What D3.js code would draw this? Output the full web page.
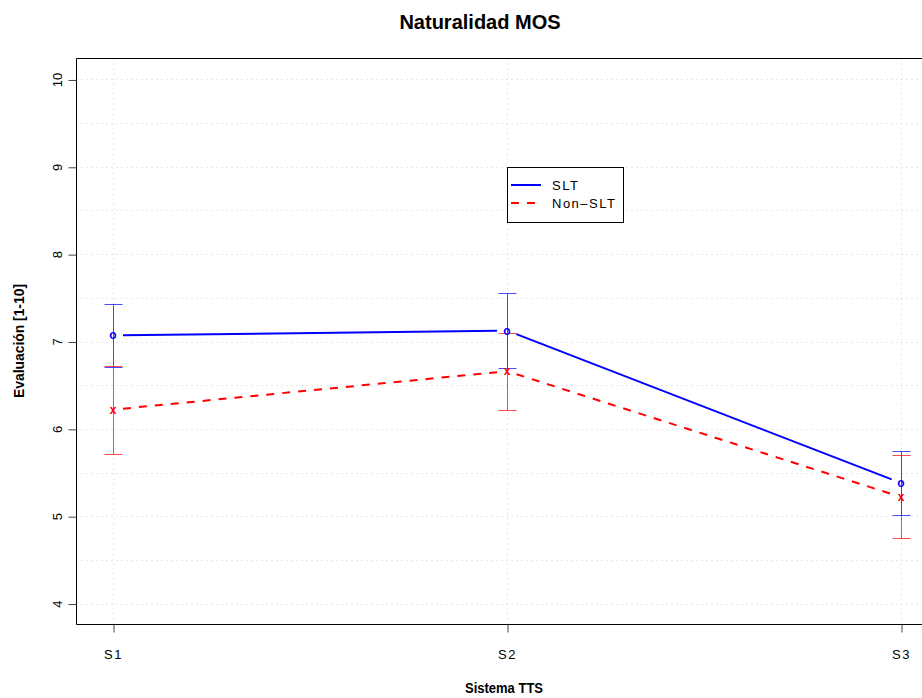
<!DOCTYPE html>
<html>
<head>
<meta charset="utf-8">
<script src="https://cdn.jsdelivr.net/npm/d3@7"></script>
<style>
  html, body { margin: 0; padding: 0; background: #fff; }
  svg { display: block; }
  text { font-family: "Liberation Sans", Arial, Helvetica, sans-serif; }
</style>
</head>
<body>
<svg id="chart" width="922" height="698"></svg>
<script>
// Mean opinion scores per TTS system, with confidence intervals
const categories = ["S1", "S2", "S3"];
const sltMean = [7.07, 7.125, 5.38];
const sltLow  = [6.705, 6.70, 5.015];
const sltHigh = [7.435, 7.55, 5.75];
const nonMean = [6.22, 6.66, 5.22];
const nonLow  = [5.715, 6.22, 4.745];
const nonHigh = [6.72, 7.10, 5.70];
const yTicks = [4, 5, 6, 7, 8, 9, 10];
const yGrid = d3.range(4, 10.01, 0.5);

const svg = d3.select("#chart");

const frame = { left: 76.5, top: 58.5, bottom: 624.5, right: 940 };

const x = d3.scalePoint().domain(categories).range([113, 901]);
const y = d3.scaleLinear().domain([3.76, 10.24]).range([frame.bottom, frame.top]);

// grid
const grid = svg.append("g").attr("stroke", "#d0d0d0").attr("stroke-width", 1)
  .attr("stroke-dasharray", "1,4");
grid.selectAll("line.h").data(yGrid).join("line").attr("class", "h")
  .attr("x1", frame.left).attr("x2", frame.right)
  .attr("y1", d => Math.round(y(d)) + 0.5).attr("y2", d => Math.round(y(d)) + 0.5);
grid.selectAll("line.v").data(categories).join("line").attr("class", "v")
  .attr("x1", d => x(d) + 0.5).attr("x2", d => x(d) + 0.5)
  .attr("y1", frame.top).attr("y2", frame.bottom);

// frame (left, top, bottom)
svg.append("path")
  .attr("d", `M${frame.right},${frame.top}H${frame.left}V${frame.bottom}H${frame.right}`)
  .attr("fill", "none").attr("stroke", "#000").attr("stroke-width", 1);

// y axis
const yAxis = svg.append("g").attr("transform", `translate(${frame.left},0)`)
  .call(d3.axisLeft(y).tickValues(yTicks).tickSize(8).tickFormat(d3.format("d")));
yAxis.select(".domain").remove();
yAxis.selectAll(".tick line").attr("stroke", "#444").attr("transform", "translate(0,0.5)");
yAxis.selectAll(".tick text")
  .attr("x", null).attr("dy", null)
  .attr("transform", "translate(-15,0) rotate(-90)")
  .attr("text-anchor", "middle")
  .attr("font-size", 13).attr("fill", "#000")
  .attr("font-family", "'Liberation Sans Narrow', 'Liberation Sans', Arial, sans-serif");

// x axis
const xAxis = svg.append("g").attr("transform", `translate(0,${frame.bottom})`)
  .call(d3.axisBottom(x).tickSize(8));
xAxis.select(".domain").remove();
xAxis.selectAll(".tick line").attr("stroke", "#444").attr("transform", "translate(0.5,0)");
xAxis.selectAll(".tick text")
  .attr("y", 34).attr("dy", null)
  .attr("font-size", 13).attr("fill", "#000")
  .attr("letter-spacing", "1.5px");

// error bars
function errorBars(low, high, color) {
  const g = svg.append("g");
  categories.forEach((c, i) => {
    const cx = x(c) + 0.5;
    const yl = Math.round(y(low[i])) + 0.5, yh = Math.round(y(high[i])) + 0.5;
    const segs = [
      [cx, cx, yl, yh],
      [cx - 9, cx + 9, yl, yl],
      [cx - 9, cx + 9, yh, yh]
    ];
    segs.forEach(s => g.append("line")
      .attr("x1", s[0]).attr("x2", s[1]).attr("y1", s[2]).attr("y2", s[3])
      .attr("stroke", color).attr("stroke-opacity", 0.7).attr("stroke-width", 1));
  });
}
errorBars(sltLow, sltHigh, "#0000ff");
errorBars(nonLow, nonHigh, "#ff0000");

// line segments with gaps around the point symbols
function gappedLine(means, color, dash) {
  const pts = categories.map((c, i) => [x(c), y(means[i])]);
  const g = svg.append("g");
  const gap = 10;
  for (let i = 0; i < pts.length - 1; i++) {
    const [x0, y0] = pts[i], [x1, y1] = pts[i + 1];
    const len = Math.hypot(x1 - x0, y1 - y0);
    const ux = (x1 - x0) / len, uy = (y1 - y0) / len;
    g.append("line")
      .attr("x1", x0 + ux * gap).attr("y1", y0 + uy * gap)
      .attr("x2", x1 - ux * gap).attr("y2", y1 - uy * gap)
      .attr("stroke", color).attr("stroke-width", 2)
      .attr("stroke-dasharray", dash);
  }
  return pts;
}
const sltPts = gappedLine(sltMean, "#0000ff", null);
const nonPts = gappedLine(nonMean, "#ff0000", "8,8");

function symbols(pts, ch, color) {
  svg.append("g").selectAll("text").data(pts).join("text")
    .attr("x", d => d[0]).attr("y", d => d[1] + 4)
    .attr("text-anchor", "middle")
    .attr("font-size", 12).attr("font-weight", "bold").attr("fill", color)
    .text(ch);
}
symbols(sltPts, "o", "#0000ff");
symbols(nonPts, "x", "#ff0000");

// legend
const leg = svg.append("g");
leg.append("rect").attr("x", 507.5).attr("y", 167.5).attr("width", 116).attr("height", 55)
  .attr("fill", "#fff").attr("stroke", "#000").attr("stroke-width", 1);
const legItems = [
  { label: "SLT", color: "#0000ff", dash: null, yy: 185 },
  { label: "Non\u2013SLT", color: "#ff0000", dash: "8,8", yy: 203 }
];
legItems.forEach(d => {
  leg.append("line").attr("x1", 511).attr("x2", 541).attr("y1", d.yy).attr("y2", d.yy)
    .attr("stroke", d.color).attr("stroke-width", 2).attr("stroke-dasharray", d.dash);
  leg.append("text").attr("x", 552).attr("y", d.yy + 5)
    .attr("font-size", 13).attr("letter-spacing", "1.5px").text(d.label);
});

// titles
svg.append("text").attr("x", 480).attr("y", 29).attr("text-anchor", "middle")
  .attr("font-size", 20).attr("font-weight", "bold").text("Naturalidad MOS");
svg.append("text").attr("x", 504).attr("y", 693).attr("text-anchor", "middle")
  .attr("font-size", 14).attr("font-weight", "bold")
  .attr("textLength", 78).attr("lengthAdjust", "spacingAndGlyphs")
  .text("Sistema TTS");
svg.append("text").attr("transform", "translate(24,341) rotate(-90)").attr("text-anchor", "middle")
  .attr("font-size", 14).attr("font-weight", "bold")
  .attr("textLength", 114).attr("lengthAdjust", "spacingAndGlyphs")
  .text("Evaluación [1-10]");
</script>
</body>
</html>
